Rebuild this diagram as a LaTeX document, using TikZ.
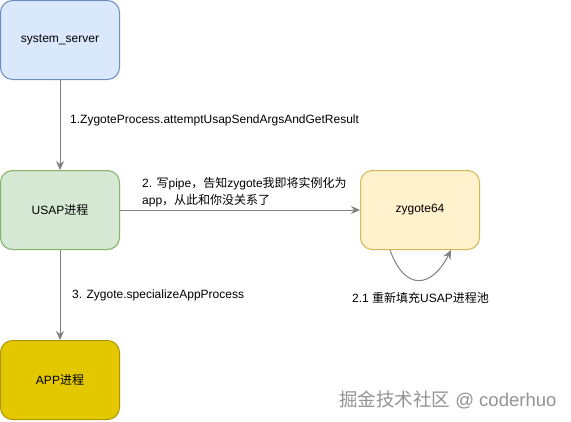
\documentclass[tikz,border=0pt]{standalone}
\usepackage{fontspec}
\setmainfont{Liberation Sans}
\newfontfamily\cjk{Noto Sans CJK SC}
\usetikzlibrary{arrows.meta}
\definecolor{blueFill}{HTML}{DAE8FC}
\definecolor{blueLine}{HTML}{6C8EBF}
\definecolor{greenFill}{HTML}{D5E8D4}
\definecolor{greenLine}{HTML}{82B366}
\definecolor{yellowFill}{HTML}{FFF2CC}
\definecolor{yellowLine}{HTML}{D6B656}
\definecolor{appFill}{HTML}{E3C800}
\definecolor{appLine}{HTML}{B09500}
\definecolor{edgeGray}{HTML}{808080}
\begin{document}
\begin{tikzpicture}[x=1pt,y=-1pt,
  procbox/.style={draw,line width=1pt,rounded corners=12pt,minimum width=119pt,minimum height=79pt,
    inner sep=0pt,font=\fontsize{12}{14}\selectfont},
  flow/.style={draw=edgeGray,line width=1pt,-{Stealth[length=9pt,width=8pt]}},
  steptext/.style={anchor=west,inner sep=0pt,align=left,font=\fontsize{12}{17}\selectfont}]
\useasboundingbox (0,0) rectangle (571,421);

\node[procbox,fill=blueFill,draw=blueLine] (server) at (60,40) {system\_server};
\node[procbox,fill=greenFill,draw=greenLine] (usap) at (60,210) {USAP{\cjk 进程}};
\node[procbox,fill=yellowFill,draw=yellowLine] (zygote) at (420,210) {zygote64};
\node[procbox,fill=appFill,draw=appLine] (app) at (60,380) {APP{\cjk 进程}};

\draw[flow] (server) -- (usap);
\draw[flow] (usap) -- (zygote);
\draw[flow] (usap) -- (app);
\draw[flow] (zygote.south west) ++(30,0) coordinate (loopA)
  .. controls (405,292) and (432,288) .. (451,250);

\node[steptext] (stepOne) at (70,120) {1.ZygoteProcess.attemptUsapSendArgsAndGetResult};
\node[steptext] (stepTwo) at (142,192) {2. {\cjk 写}pipe{\cjk ，告知}zygote{\cjk 我即将实例化为}\\app{\cjk ，从此和你没关系了}};
\node[steptext] (stepThree) at (72,295) {3. Zygote.specializeAppProcess};
\node[steptext] (stepRefill) at (352,298) {2.1 {\cjk 重新填充}USAP{\cjk 进程池}};

\node[anchor=west,inner sep=0pt,text=gray!85,font=\fontsize{18.5}{22}\selectfont] (mark) at (339,400)
  {{\cjk 掘金技术社区} @ coderhuo};
\end{tikzpicture}
\end{document}
